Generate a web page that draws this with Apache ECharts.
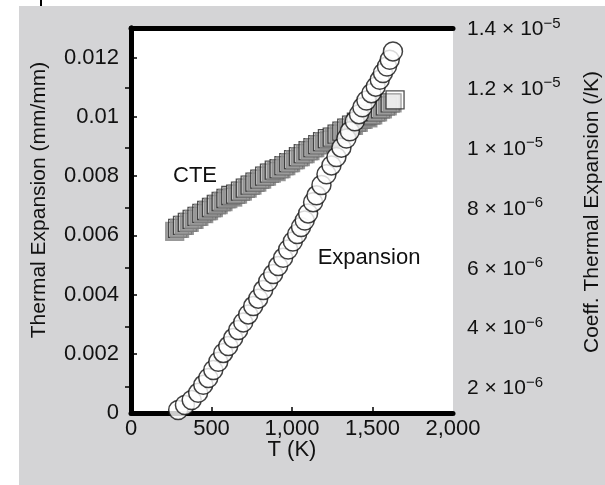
<!DOCTYPE html>
<html><head><meta charset="utf-8">
<script src="https://cdn.jsdelivr.net/npm/echarts@6/dist/echarts.min.js"></script>
<style>html,body{margin:0;padding:0;background:#fff}#c{width:605px;height:485px}</style>
</head><body><div id="c"></div>
<script>
// Expansion (mm/mm) vs T (K)
const expT = [293,335,377,417,449,480,511,542,573,604,635,666,697,728,759,790,821,852,883,914,945,976,1005,1032,1056,1079,1100,1131,1152,1183,1214,1245,1276,1307,1338,1359,1390,1416,1437,1462,1493,1520,1545,1565,1590,1607,1627];
const expV = [0.0001,0.00027,0.00044,0.00068,0.00095,0.00118,0.00145,0.00173,0.00203,0.00226,0.00253,0.0028,0.00306,0.00333,0.00361,0.00386,0.00415,0.00444,0.00469,0.00496,0.00524,0.00552,0.00579,0.00604,0.00628,0.0065,0.00674,0.00712,0.00735,0.0077,0.00806,0.00836,0.00864,0.00896,0.00927,0.00951,0.00985,0.01009,0.01032,0.01055,0.0108,0.01102,0.01125,0.01148,0.0117,0.01193,0.01221];
// CTE (/K) vs T (K)
const cteT = [290,320,350,380,410,440,470,500,530,560,590,620,650,680,710,740,770,800,830,860,890,920,950,980,1010,1040,1070,1100,1130,1160,1190,1220,1250,1280,1310,1340,1370,1400,1430,1460,1490,1520,1550,1580,1610,1640];
const cteV = [7.3e-6,7.4e-6,7.5e-6,7.6e-6,7.7e-6,7.8e-6,7.9e-6,8.0e-6,8.1e-6,8.2e-6,8.3e-6,8.4e-6,8.45e-6,8.55e-6,8.65e-6,8.75e-6,8.85e-6,8.95e-6,9.05e-6,9.15e-6,9.25e-6,9.3e-6,9.4e-6,9.5e-6,9.6e-6,9.7e-6,9.8e-6,9.9e-6,10.0e-6,10.1e-6,10.2e-6,10.3e-6,10.35e-6,10.45e-6,10.55e-6,10.65e-6,10.75e-6,10.85e-6,10.95e-6,11.05e-6,11.1e-6,11.2e-6,11.3e-6,11.4e-6,11.5e-6,11.6e-6];
// Tick labels
const xTicks = [0,500,1000,1500,2000];
const xTickLabels = ['0','500','1,000','1,500','2,000'];
const yLeftTicks = [0,0.002,0.004,0.006,0.008,0.01,0.012];
const yLeftTickLabels = ['0','0.002','0.004','0.006','0.008','0.01','0.012'];
const yRightTicks = [2e-6,4e-6,6e-6,8e-6,1e-5,1.2e-5,1.4e-5];
const yRightMant = ['2','4','6','8','1','1.2','1.4'];
const yRightExp = ['\u22126','\u22126','\u22126','\u22126','\u22125','\u22125','\u22125'];
const labelCTE = 'CTE', labelExp = 'Expansion';
const titleX = 'T (K)', titleYL = 'Thermal Expansion (mm/mm)', titleYR = 'Coeff. Thermal Expansion (/K)';

const FONT = '"Liberation Sans", Arial, sans-serif';
const FS = 22;
const chart = echarts.init(document.getElementById('c'), null, {renderer:'canvas'});
const G = {left:131, right:152, top:28, bottom:72};
const rMin = 1.13e-6, rMax = 1.4e-5;
const lbl = (arr, vals) => v => { for (let i=0;i<vals.length;i++) if (Math.abs(v-vals[i]) < 1e-12) return arr[i]; return ''; };

chart.setOption({
  animation:false,
  backgroundColor:'#ffffff',
  graphic:[
    {type:'rect', z:-10, shape:{x:19, y:6, width:586, height:479}, style:{fill:'#d4d4d6'}},
    {type:'rect', z:-10, shape:{x:40, y:0, width:2, height:6}, style:{fill:'#000'}},
    {type:'text', x:292, y:450, style:{text:titleX, font:`${FS}px ${FONT}`, fill:'#111', align:'center', verticalAlign:'middle'}},
    {type:'text', x:39, y:200, rotation:Math.PI/2, style:{text:titleYL, font:`${FS-1}px ${FONT}`, fill:'#111', align:'center', verticalAlign:'middle'}},
    {type:'text', x:592, y:212, rotation:Math.PI/2, style:{text:titleYR, font:`${FS-1}px ${FONT}`, fill:'#111', align:'center', verticalAlign:'middle'}},
    {type:'text', x:195, y:176, z:20, style:{text:labelCTE, font:`${FS}px ${FONT}`, fill:'#111', align:'center', verticalAlign:'middle'}},
    {type:'text', x:369, y:258, z:20, style:{text:labelExp, font:`${FS}px ${FONT}`, fill:'#111', align:'center', verticalAlign:'middle'}}
  ],
  grid:{left:G.left, right:G.right, top:G.top, bottom:G.bottom, show:true, backgroundColor:'#fff', borderWidth:0},
  xAxis:[
    {type:'value', min:0, max:2000, interval:500, position:'bottom',
     axisLine:{lineStyle:{color:'#000', width:5}},
     axisTick:{inside:true, length:6, lineStyle:{color:'#000', width:1.5}, customValues:[500,1000,1500]},
     axisLabel:{customValues:xTicks, formatter:lbl(xTickLabels,xTicks), color:'#111', fontSize:FS, fontFamily:FONT, margin:5},
     splitLine:{show:false}},
    {type:'value', min:0, max:2000, position:'top',
     axisLine:{lineStyle:{color:'#000', width:5}}, axisTick:{show:false}, axisLabel:{show:false}, splitLine:{show:false}}
  ],
  yAxis:[
    {type:'value', min:0, max:0.013, position:'left',
     axisLine:{show:true, lineStyle:{color:'#000', width:5}},
     axisTick:{show:true, inside:true, length:6, lineStyle:{color:'#000', width:1.5}, customValues:yLeftTicks.slice(1)},
     axisLabel:{customValues:yLeftTicks, formatter:lbl(yLeftTickLabels,yLeftTicks), color:'#111', fontSize:FS, fontFamily:FONT, margin:12},
     splitLine:{show:false}},
    {type:'value', min:rMin, max:rMax, position:'right',
     axisLine:{show:true, lineStyle:{color:'#000', width:5}},
     axisTick:{show:true, inside:true, length:6, lineStyle:{color:'#000', width:1.5}, customValues:yRightTicks.slice(0,6)},
     axisLabel:{customValues:yRightTicks, margin:14, color:'#111',
       formatter: v => { for (let i=0;i<yRightTicks.length;i++) if (Math.abs(v-yRightTicks[i])<1e-12) return '{b|'+yRightMant[i]+' \u00d7 10}{s|'+yRightExp[i]+'}'; return ''; },
       rich:{b:{fontSize:FS-1, fontFamily:FONT, color:'#111', lineHeight:24, verticalAlign:'bottom'},
             s:{fontSize:15, fontFamily:FONT, color:'#111', lineHeight:14, verticalAlign:'top'}}},
     splitLine:{show:false}}
  ],
  series:[
    {type:'scatter', name:'CTE', xAxisIndex:0, yAxisIndex:1, data:cteT.map((t,i)=>[t,cteV[i]]),
     symbol:'rect', symbolSize:18, z:3,
     itemStyle:{color:'#fff', borderColor:'#222', borderWidth:1.3, shadowColor:'#888', shadowBlur:0, shadowOffsetX:-3, shadowOffsetY:3}},
    {type:'scatter', name:'Expansion', xAxisIndex:0, yAxisIndex:0, data:expT.map((t,i)=>[t,expV[i]]),
     symbol:'circle', symbolSize:19, z:4,
     itemStyle:{color:'#fff', borderColor:'#111', borderWidth:1.5}}
  ]
});
</script></body></html>
